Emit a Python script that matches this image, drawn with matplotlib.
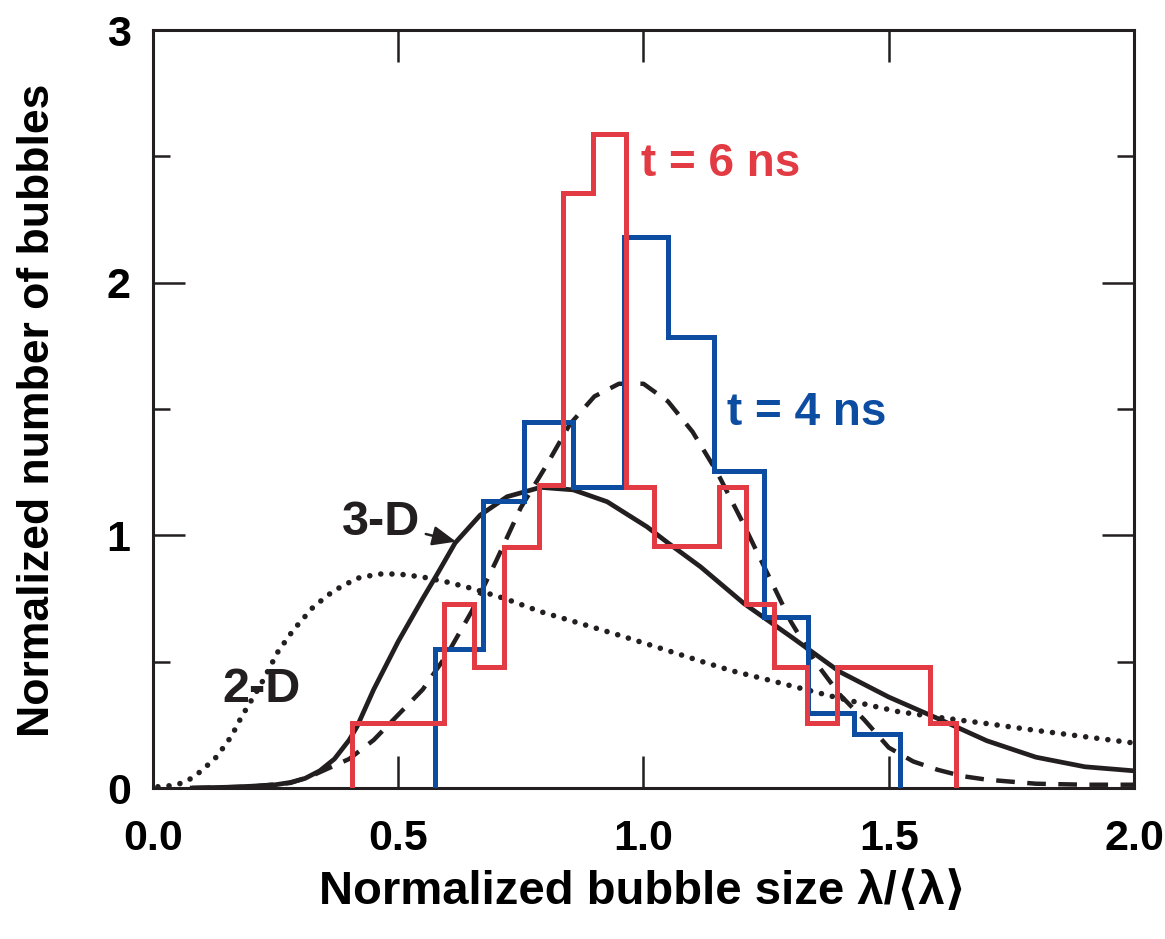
import matplotlib.pyplot as plt
import numpy as np

# Bubble-size histograms (bin edges and normalized counts)
red_edges = [0.405, 0.593, 0.654, 0.716, 0.787, 0.836, 0.898, 0.965, 1.021,
             1.153, 1.21, 1.267, 1.333, 1.394, 1.584, 1.637]
red_counts = [0.257, 0.73, 0.48, 0.955, 1.20, 2.356, 2.588, 1.19, 0.957,
              1.19, 0.728, 0.48, 0.257, 0.48, 0.257]

blue_edges = [0.575, 0.673, 0.757, 0.857, 0.96, 1.05, 1.143, 1.245, 1.335, 1.43, 1.523]
blue_counts = [0.55, 1.137, 1.45, 1.19, 2.18, 1.786, 1.256, 0.678, 0.297, 0.214]

# 3-D model curve (solid)
x_3d = [0.08, 0.15, 0.2, 0.25, 0.28, 0.31, 0.34, 0.37, 0.40, 0.416, 0.45, 0.50, 0.55,
        0.579, 0.616, 0.667, 0.722, 0.79, 0.857, 0.926, 1.007, 1.05, 1.116, 1.205, 1.30,
        1.40, 1.50, 1.60, 1.70, 1.80, 1.90, 2.00]
y_3d = [0.0, 0.003, 0.007, 0.013, 0.022, 0.038, 0.068, 0.115, 0.19, 0.243, 0.39, 0.58, 0.75,
        0.845, 0.97, 1.08, 1.153, 1.19, 1.18, 1.133, 1.034, 0.97, 0.876, 0.73, 0.60,
        0.46, 0.36, 0.275, 0.187, 0.122, 0.084, 0.068]

# dashed curve
x_dash = [0.08, 0.2, 0.28, 0.32, 0.36, 0.40, 0.45, 0.50, 0.55, 0.60, 0.65, 0.70, 0.75,
          0.80, 0.85, 0.90, 0.95, 1.00, 1.05, 1.10, 1.15, 1.20, 1.25, 1.30, 1.35, 1.40,
          1.45, 1.50, 1.55, 1.60, 1.65, 1.70, 1.80, 1.90, 2.0]
y_dash = [0.0, 0.005, 0.02, 0.045, 0.08, 0.115, 0.19, 0.29, 0.39, 0.53, 0.70, 0.90, 1.11,
          1.27, 1.44, 1.55, 1.60, 1.60, 1.53, 1.41, 1.25, 1.06, 0.86, 0.66, 0.50, 0.37,
          0.27, 0.16, 0.105, 0.072, 0.047, 0.033, 0.017, 0.013, 0.013]

# 2-D model curve (dotted)
x_2d = [0.01, 0.04, 0.06, 0.08, 0.10, 0.13, 0.16, 0.18, 0.22, 0.255, 0.286, 0.327, 0.368,
        0.416, 0.46, 0.50, 0.55, 0.60, 0.65, 0.72, 0.79, 0.87, 0.95, 1.03, 1.12, 1.18,
        1.25, 1.32, 1.39, 1.46, 1.52, 1.60, 1.70, 1.80, 1.90, 2.0]
y_2d = [0.005, 0.01, 0.02, 0.04, 0.07, 0.124, 0.205, 0.28, 0.41, 0.54, 0.625, 0.717, 0.78,
        0.83, 0.847, 0.847, 0.835, 0.815, 0.79, 0.748, 0.698, 0.652, 0.605, 0.556, 0.50,
        0.464, 0.43, 0.395, 0.36, 0.328, 0.302, 0.28, 0.255, 0.228, 0.203, 0.178]

RED = '#E23B43'
BLUE = '#0C4DA2'
INK = '#231F20'
fam = ['Liberation Sans', 'DejaVu Sans']

fig = plt.figure(figsize=(11.65, 9.39), dpi=100)
ax = fig.add_axes([0.1313, 0.1608, 0.8421, 0.8072])

ax.plot(x_2d, y_2d, color=INK, lw=4.0, linestyle=(0, (0.01, 2.0)),
        dash_capstyle='round', zorder=2)
ax.plot(x_3d, y_3d, color=INK, lw=3.4, zorder=2)
ax.plot(x_dash, y_dash, color=INK, lw=3.2, linestyle=(0, (4.2, 2.8)), zorder=2)

ax.stairs(blue_counts, blue_edges, baseline=0, color=BLUE, lw=3.6,
          joinstyle='miter', zorder=3)
ax.stairs(red_counts, red_edges, baseline=0, color=RED, lw=3.6,
          joinstyle='miter', zorder=4)

ax.text(0.994, 2.47, 't = 6 ns', color=RED, fontsize=33, fontweight='bold',
        family=fam, ha='left', va='center')
ax.text(1.171, 1.484, 't = 4 ns', color=BLUE, fontsize=33, fontweight='bold',
        family=fam, ha='left', va='center')
ax.text(0.222, 0.39, '2-D', color=INK, fontsize=35, fontweight='bold',
        family=fam, ha='center', va='center')
ax.annotate('3-D', xy=(0.618, 0.975), xytext=(0.545, 1.05), color=INK,
            fontsize=35, fontweight='bold', family=fam, ha='right', va='center',
            arrowprops=dict(arrowstyle='-|>,head_length=0.6,head_width=0.25',
                            color=INK, lw=1.8, mutation_scale=24, shrinkA=2, shrinkB=0))

ax.set_xlim(0, 2.0)
ax.set_ylim(0, 3)
ax.set_xticks([0.0, 0.5, 1.0, 1.5, 2.0])
ax.set_xticklabels(['0.0', '0.5', '1.0', '1.5', '2.0'])
ax.set_yticks([0, 1, 2, 3])
ax.set_yticks([0.5, 1.5, 2.5], minor=True)

for s in ax.spines.values():
    s.set_linewidth(2.2)
    s.set_color(INK)
ax.tick_params(which='both', direction='in', top=True, right=True, color=INK, width=1.8)
ax.tick_params(which='major', length=23)
ax.tick_params(which='minor', length=12)
ax.tick_params(axis='x', pad=22)
ax.tick_params(axis='y', pad=16)
for lab in ax.get_xticklabels() + ax.get_yticklabels():
    lab.set_family(fam)
    lab.set_fontsize(31)
    lab.set_fontweight('bold')

ax.set_xlabel('Normalized bubble size λ/⟨λ⟩', fontsize=34, fontweight='bold', family=fam)
ax.set_ylabel('Normalized number of bubbles', fontsize=32, fontweight='bold', family=fam)
ax.xaxis.set_label_coords(0.4995, -0.108)
ax.yaxis.set_label_coords(-0.0968, 0.4987)

fig.savefig('out.png', dpi=100)
